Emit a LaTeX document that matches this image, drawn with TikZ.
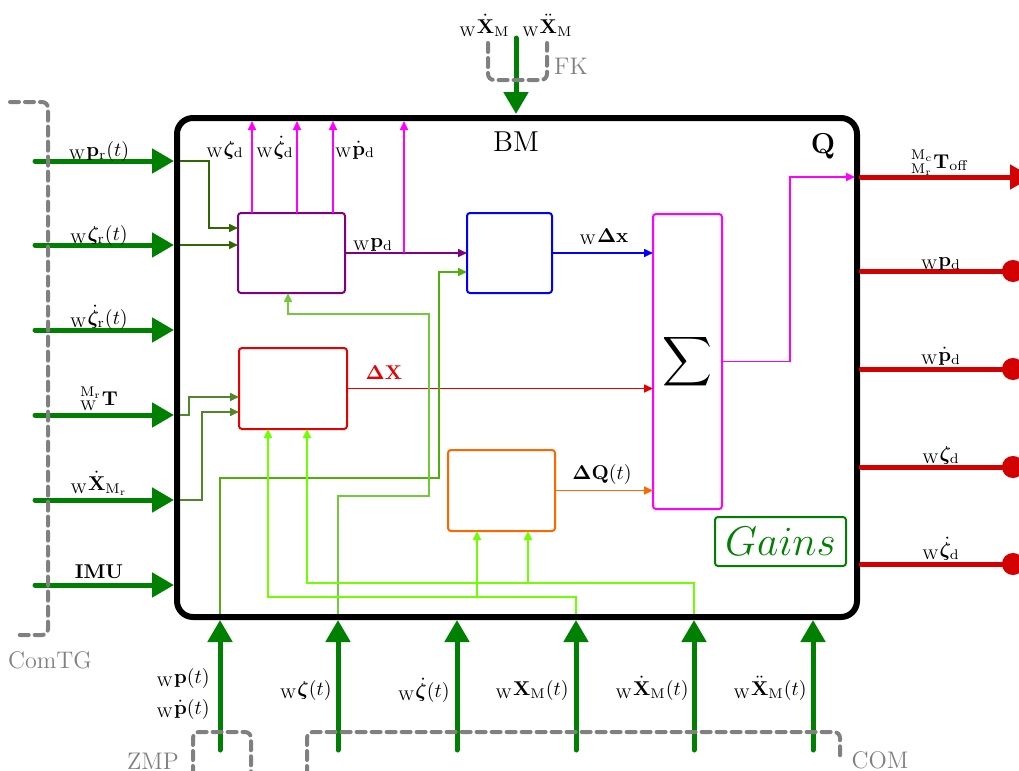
\documentclass[tikz,border=0pt]{standalone}
\usepackage{amsmath,bm}
\usetikzlibrary{arrows.meta,calc}
\definecolor{dgreen}{RGB}{0,128,0}
\definecolor{oliveA}{RGB}{51,102,0}
\definecolor{oliveB}{RGB}{80,135,40}
\definecolor{midgreen}{RGB}{80,175,10}
\definecolor{ltgreen}{RGB}{115,200,60}
\definecolor{limeg}{RGB}{110,255,0}
\definecolor{magen}{RGB}{255,0,255}
\definecolor{purp}{RGB}{128,0,128}
\definecolor{redb}{RGB}{230,0,0}
\definecolor{redo}{RGB}{210,0,0}
\definecolor{orng}{RGB}{255,102,0}
\definecolor{grayd}{RGB}{128,128,128}
\begin{document}
\begin{tikzpicture}[x=0.5pt,y=-0.5pt,
 blockbox/.style={draw, line width=1pt, rounded corners=1.5pt, inner sep=0pt, outer sep=0pt},
 inarrow/.style={dgreen, line width=2.5pt, line cap=round, -{Triangle[length=11pt,width=12pt]}},
 outarrow/.style={redo, line width=2.5pt, line cap=round, -{Triangle[length=11pt,width=12pt]}},
 outdot/.style={redo, line width=2.5pt, line cap=round, -{Circle[length=11pt]}},
 thinarrow/.style={line width=0.8pt, -{Triangle[length=4.5pt,width=4pt]}},
 grp/.style={grayd, line width=2pt, dash pattern=on 4.5pt off 3pt, line cap=round, rounded corners=3pt},
 grplabel/.style={grayd, font=\large, anchor=base, inner sep=0pt},
 lbl/.style={anchor=base, inner sep=0pt},
]
\useasboundingbox (0,0) rectangle (1019,771);

% main box
\node[draw, line width=3pt, rounded corners=8pt, minimum width=340pt, minimum height=249.5pt, inner sep=0pt, outer sep=0pt] (M) at (517,367.5) {};
\node[lbl, font=\Large] (bm) at (516,151) {BM};
\node[lbl, font=\Large] (q) at (823,153) {$\mathbf{Q}$};

% blocks
\node[blockbox, draw=purp, minimum width=53.5pt, minimum height=40pt] (P) at (291.5,253) {};
\node[blockbox, draw=blue, minimum width=42.5pt, minimum height=40pt] (B) at (509.5,253) {};
\node[blockbox, draw=redb, minimum width=54pt, minimum height=40.5pt] (R) at (293,388.5) {};
\node[blockbox, draw=orng, minimum width=53.5pt, minimum height=40.5pt] (O) at (501.5,490.5) {};
\node[blockbox, draw=magen, minimum width=34.5pt, minimum height=147.5pt] (S) at (687.5,361.5) {\LARGE$\displaystyle\sum$};
\node[blockbox, draw=dgreen, minimum width=65.5pt, minimum height=24.5pt, text=dgreen] (G) at (780.5,541.5) {\huge$Gains$};

% named coordinates
\foreach \y/\n in {161/1,245/2,330/3,415/4,500/5,585/6} {
  \coordinate (ls\n) at (35,\y); \coordinate (le\n) at (174,\y); \coordinate (li\n) at (180,\y);}
\foreach \x/\n in {220/1,338/2,457/3,576/4,694/5,813/6} {
  \coordinate (bs\n) at (\x,750); \coordinate (be\n) at (\x,620); \coordinate (bi\n) at (\x,614);}
\coordinate (fks) at (516,38); \coordinate (fke) at (516,114);
\coordinate (r0s) at (861,177); \coordinate (r0e) at (1032,177);
\foreach \y/\n in {271/1,369/2,467/3,564/4} {
  \coordinate (r\n s) at (861,\y); \coordinate (r\n e) at (1024,\y);}
\coordinate (qin) at (855,177);
\coordinate (pd) at (404,253);

% left input internal lines
\draw[thinarrow, oliveA] (li1) -| (209,228) -- ($(P.west)+(0,-25)$);
\draw[thinarrow, oliveA] (li2) -- (P.west |- li2);
\draw[thinarrow, oliveB] (li4) -| (189,397) -- ($(R.west)+(0,8.5)$);
\draw[thinarrow, oliveB] (li5) -| (202,412) -- ($(R.west)+(0,23.5)$);

% purple outputs
\draw[thinarrow, purp] (P.east) -- (B.west);
\draw[thinarrow, magen] ($(P.north)+(-39.5,0)$) -- ++(0,-92);
\draw[thinarrow, magen] ($(P.north)+(5.5,0)$) -- ++(0,-92);
\draw[thinarrow, magen] ($(P.north)+(41.5,0)$) -- ++(0,-92);
\draw[thinarrow, magen] (pd) -- (404,121);

% to sum
\draw[thinarrow, blue] (B.east) -- (S.west |- B.east);
\draw[thinarrow, redb] (R.east) -- (S.west |- R.east);
\draw[thinarrow, orng] (O.east) -- (S.west |- O.east);
\draw[thinarrow, magen] (S.east) -| (790,177) -- (qin);

% bottom input internal lines
\draw[thinarrow, midgreen] (bi1) |- (439,478) |- ($(B.west)+(0,19)$);
\draw[thinarrow, ltgreen] (bi2) |- (429,496) |- (288,314) -- ($(P.south)+(-3.5,0)$);
\draw[thinarrow, limeg] (bi4) |- (268,597) -- ($(R.south)+(-25,0)$);
\draw[thinarrow, limeg] (477,597) -- ($(O.south)+(-24.5,0)$);
\draw[thinarrow, limeg] (bi5) |- (307,583) -- ($(R.south)+(14,0)$);
\draw[thinarrow, limeg] (528,583) -- ($(O.south)+(26.5,0)$);

% internal labels
\node[lbl] (l_zd) at (225,155) {${}_{\mathrm{W}}\boldsymbol{\zeta}_{\mathrm{d}}$};
\node[lbl] (l_zdd) at (275,155) {${}_{\mathrm{W}}\dot{\boldsymbol{\zeta}}_{\mathrm{d}}$};
\node[lbl] (l_pdd) at (355,155) {${}_{\mathrm{W}}\dot{\mathbf{p}}_{\mathrm{d}}$};
\node[lbl] (l_pd) at (373,247) {${}_{\mathrm{W}}\mathbf{p}_{\mathrm{d}}$};
\node[lbl] (l_dx) at (604,242) {${}_{\mathrm{W}}\boldsymbol{\Delta}\mathbf{x}$};
\node[lbl, text=redb] (l_dX) at (384,379) {$\boldsymbol{\Delta}\mathbf{X}$};
\node[lbl] (l_dQ) at (602,479) {$\boldsymbol{\Delta}\mathbf{Q}(t)$};

% left inputs
\foreach \n in {1,...,6} \draw[inarrow] (ls\n) -- (le\n);
\node[lbl] at (99,156) {${}_{\mathrm{W}}\mathbf{p}_{\mathrm{r}}(t)$};
\node[lbl] at (99,240) {${}_{\mathrm{W}}\boldsymbol{\zeta}_{\mathrm{r}}(t)$};
\node[lbl] at (99,324) {${}_{\mathrm{W}}\dot{\boldsymbol{\zeta}}_{\mathrm{r}}(t)$};
\node[lbl] at (99,405) {${}^{\mathrm{M_r}}_{\mathrm{W}}\mathbf{T}$};
\node[lbl] at (99,490) {${}_{\mathrm{W}}\dot{\mathbf{X}}_{\mathrm{M_r}}$};
\node[lbl] at (99,578) {\textbf{IMU}};

% top input
\draw[inarrow] (fks) -- (fke);
\node[lbl, anchor=base east] at (510,33) {${}_{\mathrm{W}}\dot{\mathbf{X}}_{\mathrm{M}}$};
\node[lbl, anchor=base west] at (522,33) {${}_{\mathrm{W}}\ddot{\mathbf{X}}_{\mathrm{M}}$};

% bottom inputs
\foreach \n in {1,...,6} \draw[inarrow] (bs\n) -- (be\n);
\node[lbl, anchor=base east] at (210,683) {${}_{\mathrm{W}}\mathbf{p}(t)$};
\node[lbl, anchor=base east] at (210,714) {${}_{\mathrm{W}}\dot{\mathbf{p}}(t)$};
\node[lbl, anchor=base east] at (332,695) {${}_{\mathrm{W}}\boldsymbol{\zeta}(t)$};
\node[lbl, anchor=base east] at (450,697) {${}_{\mathrm{W}}\dot{\boldsymbol{\zeta}}(t)$};
\node[lbl, anchor=base east] at (569,695) {${}_{\mathrm{W}}\mathbf{X}_{\mathrm{M}}(t)$};
\node[lbl, anchor=base east] at (689,695) {${}_{\mathrm{W}}\dot{\mathbf{X}}_{\mathrm{M}}(t)$};
\node[lbl, anchor=base east] at (807,695) {${}_{\mathrm{W}}\ddot{\mathbf{X}}_{\mathrm{M}}(t)$};

% right outputs
\draw[outarrow] (r0s) -- (r0e);
\foreach \n in {1,...,4} \draw[outdot] (r\n s) -- (r\n e);
\node[lbl] at (940,168) {${}^{\mathrm{M_c}}_{\mathrm{M_r}}\mathbf{T}_{\mathrm{off}}$};
\node[lbl] at (941,266) {${}_{\mathrm{W}}\mathbf{p}_{\mathrm{d}}$};
\node[lbl] at (941,361) {${}_{\mathrm{W}}\dot{\mathbf{p}}_{\mathrm{d}}$};
\node[lbl] at (941,460) {${}_{\mathrm{W}}\boldsymbol{\zeta}_{\mathrm{d}}$};
\node[lbl] at (941,556) {${}_{\mathrm{W}}\dot{\boldsymbol{\zeta}}_{\mathrm{d}}$};

% dashed groups
\draw[grp] (10,102) -- (48,102) -- (48,635) -- (18,635);
\node[grplabel] at (50,668) {ComTG};
\draw[grp] (488,43) -- (488,80) -- (547,80) -- (547,43);
\node[grplabel] at (571,75) {FK};
\draw[grp] (193,775) -- (193,732) -- (251,732) -- (251,775);
\node[grplabel] at (153,769) {ZMP};
\draw[grp] (307,775) -- (307,732) -- (840,732) -- (840,760);
\node[grplabel] at (880,768) {COM};
\end{tikzpicture}
\end{document}
